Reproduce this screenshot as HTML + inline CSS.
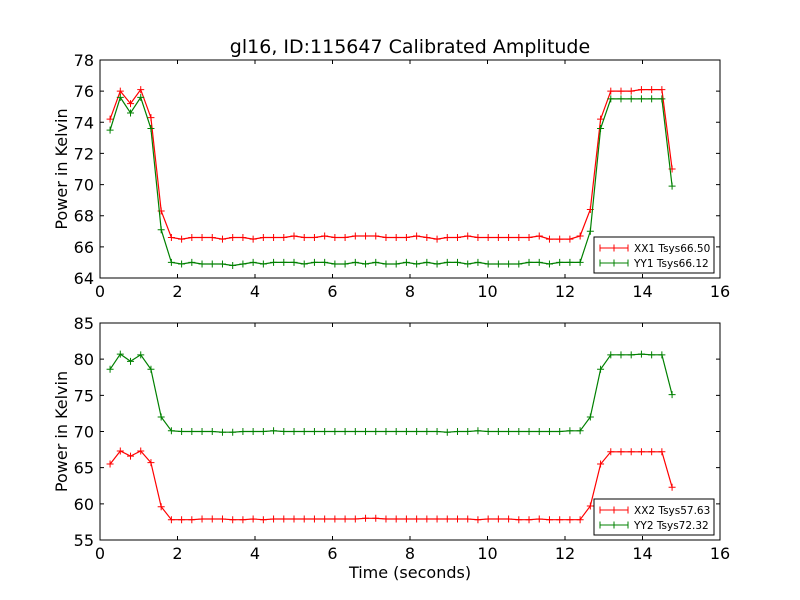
<!DOCTYPE html>
<html><head><meta charset="utf-8"><style>
body{margin:0;background:#fff;}
svg{display:block;font-family:"DejaVu Sans","Liberation Sans",sans-serif;}
</style></head><body>
<svg id="c" width="800" height="600" viewBox="0 0 800 600">
<rect width="800" height="600" fill="#fff"/>
<text x="410" y="53" font-size="19" text-anchor="middle">gl16, ID:115647 Calibrated Amplitude</text>
</svg>
<script>
const xTicks=[0,2,4,6,8,10,12,14,16];
const topYTicks=[64,66,68,70,72,74,76,78];
const botYTicks=[55,60,65,70,75,80,85];
const t0=0.26, dt=0.2637;
const xx1=[74.2,76.0,75.2,76.1,74.3,68.3,66.6,66.5,66.6,66.6,66.6,66.5,66.6,66.6,66.5,66.6,66.6,66.6,66.7,66.6,66.6,66.7,66.6,66.6,66.7,66.7,66.7,66.6,66.6,66.6,66.7,66.6,66.5,66.6,66.6,66.7,66.6,66.6,66.6,66.6,66.6,66.6,66.7,66.5,66.5,66.5,66.7,68.4,74.2,76.0,76.0,76.0,76.1,76.1,76.1,71.0];
const yy1=[73.5,75.6,74.6,75.6,73.6,67.1,65.0,64.9,65.0,64.9,64.9,64.9,64.8,64.9,65.0,64.9,65.0,65.0,65.0,64.9,65.0,65.0,64.9,64.9,65.0,64.9,65.0,64.9,64.9,65.0,64.9,65.0,64.9,65.0,65.0,64.9,65.0,64.9,64.9,64.9,64.9,65.0,65.0,64.9,65.0,65.0,65.0,67.0,73.6,75.5,75.5,75.5,75.5,75.5,75.5,69.9];
const xx2=[65.5,67.3,66.6,67.3,65.7,59.6,57.8,57.8,57.8,57.9,57.9,57.9,57.8,57.8,57.9,57.8,57.9,57.9,57.9,57.9,57.9,57.9,57.9,57.9,57.9,58.0,58.0,57.9,57.9,57.9,57.9,57.9,57.9,57.9,57.9,57.9,57.8,57.9,57.9,57.9,57.8,57.8,57.9,57.8,57.8,57.8,57.8,59.7,65.5,67.2,67.2,67.2,67.2,67.2,67.2,62.3];
const yy2=[78.6,80.7,79.7,80.6,78.6,72.0,70.1,70.0,70.0,70.0,70.0,69.9,69.9,70.0,70.0,70.0,70.1,70.0,70.0,70.0,70.0,70.0,70.0,70.0,70.0,70.0,70.0,70.0,70.0,70.0,70.0,70.0,70.0,69.9,70.0,70.0,70.1,70.0,70.0,70.0,70.0,70.0,70.0,70.0,70.0,70.1,70.1,72.0,78.6,80.6,80.6,80.6,80.7,80.6,80.6,75.1];
const times=xx1.map((_,i)=>t0+dt*i);
const svg=document.getElementById('c');
const NS='http://www.w3.org/2000/svg';
function mk(tag,attrs,parent){const e=document.createElementNS(NS,tag);for(const k in attrs)e.setAttribute(k,attrs[k]);(parent||svg).appendChild(e);return e;}
function panel(name,top,bot,ymin,ymax,yticks,series,legTop,showXLabel){
  const L=100,R=720;
  const sx=v=>L+(v-0)/(16-0)*(R-L);
  const sy=v=>bot-(v-ymin)/(ymax-ymin)*(bot-top);
  const g=mk('g',{});
  
  
  series.forEach(s=>{
    const pts=s.vals.map((v,i)=>sx(times[i]).toFixed(1)+','+sy(v).toFixed(1)).join(' ');
    const pl=mk('polyline',{points:pts,fill:'none',stroke:s.color,'stroke-width':1.2},g);
    
    
    s.vals.forEach((v,i)=>{
      const x=sx(times[i]),y=sy(v);
      const m=mk('path',{d:`M${x-3.5},${y}H${x+3.5}M${x},${y-3.5}V${y+3.5}`,stroke:s.color,'stroke-width':1},g);
      
      
    });
  });
  const fr=mk('rect',{x:L,y:top,width:R-L,height:bot-top,fill:'none',stroke:'#000','stroke-width':1},g);
  
  
  xTicks.forEach(v=>{
    const x=sx(v);
    mk('path',{d:`M${x},${bot}V${bot-4}M${x},${top}V${top+4}`,stroke:'#000'},g);
    const t=mk('text',{x:x,y:bot+19,'font-size':16,'text-anchor':'middle'},g);
    t.textContent=v;
    
    
  });
  yticks.forEach(v=>{
    const y=sy(v);
    mk('path',{d:`M${L},${y}H${L+4}M${R},${y}H${R-4}`,stroke:'#000'},g);
    const t=mk('text',{x:L-6,y:y+6,'font-size':16,'text-anchor':'end'},g);
    t.textContent=v;
    
    
  });
  const yl=mk('text',{x:0,y:0,'font-size':16,'text-anchor':'middle',transform:`translate(67,${(top+bot)/2}) rotate(-90)`},g);
  yl.textContent='Power in Kelvin';
  
  
  if(showXLabel){
    const xl=mk('text',{x:(L+R)/2,y:bot+38,'font-size':16,'text-anchor':'middle'},g);
    xl.textContent='Time (seconds)';
    
    
  }
  const lg=mk('g',{},g);
  
  
  mk('rect',{x:594,y:legTop,width:120,height:36,fill:'#fff',stroke:'#000'},lg);
  series.forEach((s,i)=>{
    const y=legTop+11+i*15;
    const e=mk('g',{},lg);
    
    
    mk('path',{d:`M600,${y}H628M614,${y-3.5}V${y+3.5}M600,${y-3.5}V${y+3.5}M628,${y-3.5}V${y+3.5}`,stroke:s.color},e);
    const t=mk('text',{x:634,y:y+4,'font-size':10.5},e);
    t.textContent=s.label;
  });
}
panel('top-panel',60,278,64,78,topYTicks,[
  {key:'xx1',vals:xx1,color:'#ff0000',label:'XX1 Tsys66.50'},
  {key:'yy1',vals:yy1,color:'#008000',label:'YY1 Tsys66.12'}],237,false);
panel('bottom-panel',323,540,55,85,botYTicks,[
  {key:'xx2',vals:xx2,color:'#ff0000',label:'XX2 Tsys57.63'},
  {key:'yy2',vals:yy2,color:'#008000',label:'YY2 Tsys72.32'}],499,true);
</script>
</body></html>
